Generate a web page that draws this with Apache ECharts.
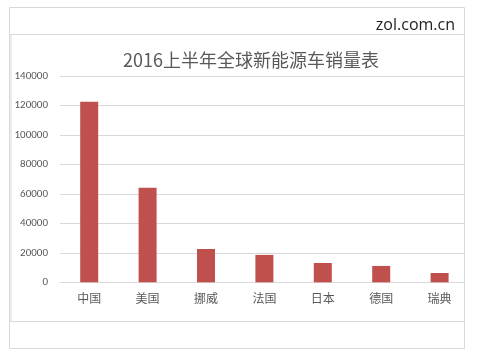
<!DOCTYPE html>
<html><head><meta charset="utf-8">
<script src="https://cdn.jsdelivr.net/npm/echarts@6/dist/echarts.min.js"></script>
<style>html,body{margin:0;padding:0;background:#fff}#c{width:480px;height:357px}</style>
</head><body><div id="c"></div>
<script>
const titleText = '2016上半年全球新能源车销量表';
const sourceText = 'zol.com.cn';
const categories = ['中国','美国','挪威','法国','日本','德国','瑞典'];
const sales = [122600, 64100, 22600, 18600, 13100, 11100, 6300];
const yTicks = [0, 20000, 40000, 60000, 80000, 100000, 120000, 140000];

const chart = echarts.init(document.getElementById('c'), null, {renderer:'canvas'});
const border = '#d9d9d9';
const font = '"Microsoft YaHei","Noto Sans CJK SC",sans-serif';
chart.setOption({
  animation:false,
  backgroundColor:'#fff',
  title:{text:titleText,left:246,textAlign:'center',top:46,textStyle:{fontSize:18,fontWeight:'normal',color:'#595959',fontFamily:font}},
  grid:{left:60,right:11.2,top:76,bottom:74.7,containLabel:false},
  xAxis:{type:'category',data:categories,
    axisLine:{lineStyle:{color:border}},axisTick:{show:false},
    axisLabel:{color:'#595959',fontSize:12,margin:10,fontFamily:font}},
  yAxis:{type:'value',min:yTicks[0],max:yTicks[yTicks.length-1],interval:yTicks[1]-yTicks[0],
    axisLine:{show:false},axisTick:{show:false},
    splitLine:{lineStyle:{color:border}},
    axisLabel:{color:'#595959',fontSize:11,margin:12,formatter:v=>String(v),fontFamily:'Calibri,"Liberation Sans",Arial,sans-serif'}},
  series:[{type:'bar',data:sales,barWidth:18,itemStyle:{color:'#c0504d'}}],
  graphic:[
    {type:'rect',z:100,shape:{x:465,y:0,width:15,height:357},style:{fill:'#fff'}},
    {type:'rect',z:101,shape:{x:9.5,y:7.5,width:455,height:341},style:{fill:'none',stroke:border,lineWidth:1}},
    {type:'line',z:101,shape:{x1:9.5,y1:34.5,x2:464.5,y2:34.5},style:{stroke:border,lineWidth:1}},
    {type:'line',z:101,shape:{x1:9.5,y1:321.5,x2:464.5,y2:321.5},style:{stroke:border,lineWidth:1}},
    {type:'line',z:101,shape:{x1:11,y1:34.5,x2:11,y2:321.5},style:{stroke:border,lineWidth:1}},
    {type:'text',z:101,style:{text:sourceText,x:455,y:25,align:'right',verticalAlign:'middle',fontSize:16,fill:'#222',fontFamily:'"Open Sans","Noto Sans",sans-serif'}}
  ]
});
</script></body></html>
